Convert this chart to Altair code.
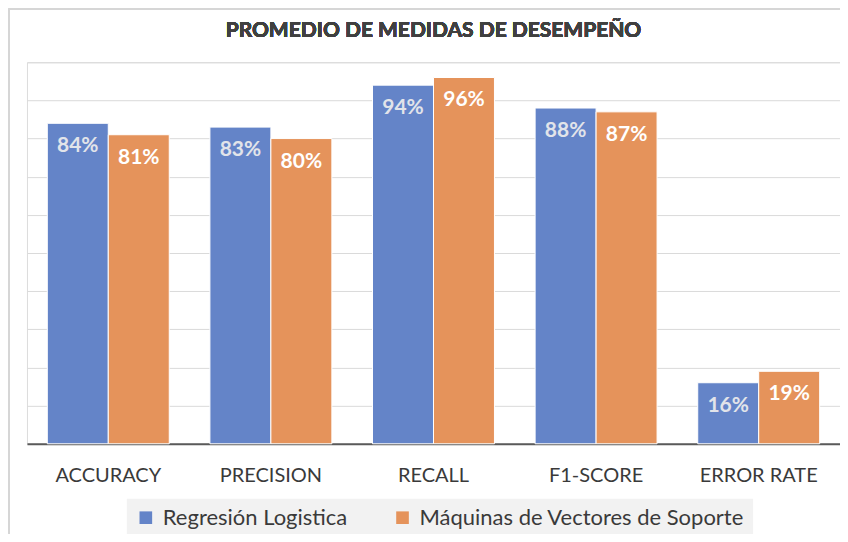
import altair as alt
import pandas as pd

categories = ["ACCURACY", "PRECISION", "RECALL", "F1-SCORE", "ERROR RATE"]
series_names = ["Regresión Logistica", "Máquinas de Vectores de Soporte"]
reg_values = [0.84, 0.83, 0.94, 0.88, 0.16]
svm_values = [0.81, 0.80, 0.96, 0.87, 0.19]
colors = ["#6484C8", "#E5935B"]
title_text = "PROMEDIO DE MEDIDAS DE DESEMPEÑO"

rows = []
for c, a, b in zip(categories, reg_values, svm_values):
    rows.append({"cat": c, "series": series_names[0], "value": a})
    rows.append({"cat": c, "series": series_names[1], "value": b})
df = pd.DataFrame(rows)

FONT = "Lato"

x = alt.X("cat:N", sort=categories, title=None,
          scale=alt.Scale(paddingInner=0.25, paddingOuter=0.125),
          axis=alt.Axis(labelAngle=0, labelFontSize=20, labelColor="#3a3a3a",
                        labelFont=FONT, labelPadding=22, ticks=False,
                        domainColor="#5a5a5a", domainWidth=2, grid=False))
xo = alt.XOffset("series:N", sort=series_names,
                 scale=alt.Scale(paddingInner=0.0))
y = alt.Y("value:Q", title=None,
          scale=alt.Scale(domain=[0, 1], nice=False),
          axis=alt.Axis(values=[i / 10 for i in range(11)], labels=False,
                        ticks=False, domain=False, grid=True,
                        gridColor="#dadada", gridWidth=1))

bars = alt.Chart(df).mark_bar(stroke="white", strokeWidth=1).encode(
    x=x, xOffset=xo, y=y,
    color=alt.Color("series:N", sort=series_names,
                    scale=alt.Scale(domain=series_names, range=colors),
                    legend=alt.Legend(title=None, orient="none", legendX=100, legendY=437,
                                      direction="horizontal", fillColor="#f2f2f2",
                                      padding=8, symbolType="square", symbolSize=160,
                                      symbolStrokeWidth=0, labelFontSize=22,
                                      labelFont=FONT, labelColor="#3a3a3a",
                                      columnPadding=44, labelOffset=6,
                                      labelLimit=450)),
)

labels = alt.Chart(df).mark_text(baseline="top", dy=12, fontSize=21, fontWeight="bold",
                                 font=FONT).encode(
    x=x, xOffset=xo, y=y,
    text=alt.Text("value:Q", format=".0%"),
    color=alt.condition(alt.datum.series == series_names[0],
                        alt.value("#e2e4ea"), alt.value("#ffffff")),
)

title = alt.Chart(df).mark_text(fontSize=21, fontWeight="bold", font=FONT,
                                color="#404040", baseline="middle").encode(
    x=alt.value(407), y=alt.value(-31), text=alt.value(title_text))

border_left = alt.Chart(df).mark_rule(color="#d6d6d6", strokeWidth=1.5).encode(
    x=alt.value(-18), y=alt.value(-53.5), y2=alt.value(472))
border_top = alt.Chart(df).mark_rule(color="#d6d6d6", strokeWidth=1.5).encode(
    x=alt.value(-18), x2=alt.value(830), y=alt.value(-53.5))

chart = alt.layer(border_left, border_top, bars, labels, title).properties(
    width=814, height=382,
    padding={"left": 19, "top": 54, "right": 0, "bottom": 90},
    autosize=alt.AutoSizeParams(type="none"),
).configure_view(stroke=None).configure(background="white")

chart.save("out.html", embed_options={"renderer": "svg", "actions": False})
